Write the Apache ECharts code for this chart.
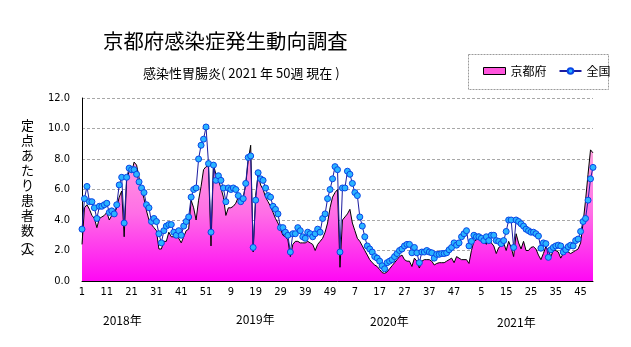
<!DOCTYPE html>
<html><head><meta charset="utf-8">
<script src="https://cdn.jsdelivr.net/npm/echarts@6/dist/echarts.min.js"></script>
<style>html,body{margin:0;padding:0;background:#fff}#c{width:631px;height:347px}</style>
</head><body><div id="c"></div>
<script>
// ---- data (weekly, per sentinel) ----
const years = [2018, 2019, 2020, 2021];
const weeksInYear = [52, 52, 53, 50];
const yearLabels = ['2018年', '2019年', '2020年', '2021年'];
const labelWeeks2018 = [1, 11, 21, 31, 41, 51];
const labelWeeks2019 = [9, 19, 29, 39, 49];
const labelWeeks2020 = [7, 17, 27, 37, 47];
const labelWeeks2021 = [5, 15, 25, 35, 45];
const yTicks = [0, 2, 4, 6, 8, 10, 12];

const kyoto2018 = [2.4,4.8,5.0,4.7,4.3,4.1,3.5,4.1,4.2,4.3,4.5,4.0,4.3,4.4,4.8,5.5,5.9,2.9,6.6,7.2,7.1,7.8,7.6,6.8,6.0,5.4,4.6,4.0,3.7,3.5,3.3,2.1,2.1,2.6,2.6,3.2,2.9,2.9,2.9,2.8,2.5,2.9,3.3,3.4,5.3,4.8,4.0,5.3,6.2,7.3,7.5,7.5];
const kyoto2019 = [2.3,7.6,7.0,6.6,6.1,5.5,4.3,4.8,4.8,4.9,5.1,5.5,5.4,5.5,6.3,7.9,8.9,1.9,5.6,7.0,6.3,6.0,5.5,5.2,4.9,4.5,4.1,3.8,3.4,3.0,2.9,2.7,1.6,2.4,2.6,2.6,2.5,2.5,2.5,2.6,2.5,2.4,2.0,2.4,2.6,2.8,3.2,3.8,4.8,5.5,5.8,6.0];
const kyoto2020 = [0.9,4.0,4.2,4.4,4.7,3.8,3.3,2.8,2.6,2.3,2.0,1.7,1.4,1.2,1.05,0.95,0.75,0.55,0.5,0.6,0.8,1.0,1.2,1.4,1.6,1.7,1.4,1.3,1.3,0.95,1.5,1.3,0.85,1.3,1.4,1.4,1.4,1.3,1.05,1.15,1.2,1.2,1.2,1.3,1.4,1.5,1.2,1.6,1.5,1.4,1.4,1.4,1.15];
const kyoto2021 = [2.0,2.6,2.7,3.1,2.8,2.6,2.4,2.9,2.5,2.3,1.8,2.2,2.3,2.5,2.0,2.6,2.2,1.6,3.1,2.5,2.1,2.6,2.0,2.0,2.2,2.25,2.1,1.7,1.4,1.8,2.25,2.0,1.6,2.0,2.0,1.9,1.5,1.8,2.0,1.9,1.8,1.9,2.0,2.1,2.5,3.8,5.3,7.0,8.6,8.4];

const national2018 = [3.4,5.4,6.2,5.2,5.2,4.8,4.1,4.9,4.9,5.0,5.1,4.5,4.6,4.4,5.0,6.3,6.8,3.8,6.8,7.4,7.3,7.3,7.0,6.5,6.1,5.8,5.0,4.8,3.9,4.1,3.9,3.1,2.5,3.3,3.6,3.7,3.7,3.2,3.0,3.3,3.0,3.6,3.9,4.2,5.5,6.0,6.1,8.0,8.9,9.3,10.1,7.7];
const national2019 = [3.2,7.6,6.6,6.9,6.6,6.1,5.2,6.1,6.0,6.1,6.0,5.6,5.2,5.4,6.4,8.1,8.2,2.2,5.3,7.1,6.7,6.6,6.1,5.6,5.5,4.9,4.7,4.4,3.5,3.5,3.2,3.0,1.9,3.1,3.1,3.5,3.3,2.9,2.8,3.2,3.1,2.9,3.1,3.4,3.2,4.1,4.4,5.4,6.0,6.7,7.5,7.3];
const national2020 = [1.9,6.1,6.1,7.2,7.0,6.4,5.8,5.6,4.2,3.6,2.9,2.3,2.1,1.9,1.6,1.5,1.3,1.0,0.8,1.2,1.3,1.4,1.6,1.8,2.0,2.1,2.3,2.4,2.4,1.85,2.2,1.85,1.2,1.9,1.9,2.0,1.9,1.85,1.5,1.75,1.75,1.8,1.8,1.85,2.05,2.2,2.5,2.35,2.5,2.9,3.1,3.3,2.3];
const national2021 = [2.6,3.0,2.9,2.9,2.8,2.65,2.9,2.65,3.0,3.0,2.65,2.6,2.45,2.65,3.25,4.0,4.0,2.2,4.0,3.9,3.75,3.6,3.4,3.3,3.2,3.2,3.1,2.95,2.15,2.5,2.45,1.55,2.05,2.2,2.3,2.35,2.3,1.9,2.05,2.25,2.35,2.3,2.65,2.75,3.25,3.9,4.1,5.3,6.7,7.45];

// ---- build ----
const kyoto = [].concat(kyoto2018, kyoto2019, kyoto2020, kyoto2021);
const national = [].concat(national2018, national2019, national2020, national2021);
const labelWeeks = [labelWeeks2018, labelWeeks2019, labelWeeks2020, labelWeeks2021];
const categories = [];
const shown = new Set();
years.forEach((y, yi) => {
  for (let w = 1; w <= weeksInYear[yi]; w++) {
    const c = y + '/' + w;
    categories.push(c);
    if (labelWeeks[yi].indexOf(w) >= 0) shown.add(c);
  }
});

const narrow = '"Liberation Sans Narrow","DejaVu Sans Condensed",Arial,sans-serif';
const jp = '"Noto Sans CJK JP","Noto Sans CJK SC",sans-serif';

const chart = echarts.init(document.getElementById('c'), null, {renderer: 'canvas'});
chart.setOption({
  animation: false,
  backgroundColor: '#fff',
  grid: {left: 82, top: 98, width: 511, height: 183, containLabel: false},
  legend: {
    left: 478, top: 60, itemWidth: 22, itemHeight: 7, itemGap: 12,
    textStyle: {fontFamily: jp, fontSize: 12, color: '#000'},
    data: [
      {name: '京都府', icon: 'rect', itemStyle: {color: '#ff55dd', borderColor: '#000', borderWidth: 1}},
      {name: '全国'}
    ]
  },
  xAxis: {
    type: 'category', data: categories, boundaryGap: false,
    axisLine: {lineStyle: {color: '#000', width: 1}},
    axisTick: {inside: true, length: 4, interval: (i) => i % 5 === 0, lineStyle: {color: '#000'}},
    axisLabel: {
      interval: (i, v) => shown.has(v),
      formatter: (v) => v.split('/')[1],
      color: '#000', fontSize: 11, fontFamily: narrow, margin: 6
    },
    splitLine: {show: false}
  },
  yAxis: {
    type: 'value', min: yTicks[0], max: yTicks[yTicks.length - 1], interval: 2,
    axisLine: {show: true, lineStyle: {color: '#000', width: 1}},
    axisTick: {show: false},
    axisLabel: {formatter: (v) => v.toFixed(1), color: '#000', fontSize: 11, fontFamily: narrow, margin: 12},
    splitLine: {lineStyle: {color: '#a8a8a8', type: [3, 2], width: 1}}
  },
  series: [
    {
      name: '京都府', type: 'line', data: kyoto, symbol: 'none', z: 2,
      lineStyle: {color: '#000', width: 1},
      itemStyle: {color: '#ff55dd'},
      areaStyle: {
        opacity: 1,
        color: new echarts.graphic.LinearGradient(0, 0, 0, 1, [
          {offset: 0, color: '#ffa6de'},
          {offset: 0.5, color: '#ff6ee6'},
          {offset: 1, color: '#ff08f4'}
        ])
      }
    },
    {
      name: '全国', type: 'line', data: national, symbol: 'circle', symbolSize: 6, z: 3,
      showSymbol: true, showAllSymbol: true,
      lineStyle: {color: '#1c1ca0', width: 1},
      itemStyle: {color: '#2ab4ff', borderColor: '#0a46e6', borderWidth: 1}
    }
  ],
  graphic: [
    {type: 'text', left: 103, top: 31, style: {text: '京都府感染症発生動向調査', font: '20.4px ' + jp, fill: '#000'}},
    {type: 'text', left: 143, top: 67, style: {text: '感染性胃腸炎( 2021 年 50週 現在 )', font: '13px ' + jp, fill: '#000'}},
    {type: 'rect', left: 466, top: 52, shape: {width: 140, height: 35}, style: {fill: 'none', stroke: '#9a9a9a', lineWidth: 1, lineDash: [2, 1]}, z: -1},
    {type: 'text', left: 21, top: 118, style: {text: '定\n点\nあ\nた\nり\n患\n者\n数', font: '13px ' + jp, lineHeight: 15, fill: '#000'}},
    {type: 'text', left: 21, top: 234, style: {text: '︵', font: '13px ' + jp, fill: '#000'}},
    {type: 'text', left: 21, top: 243, style: {text: '人', font: '13px ' + jp, fill: '#000'}},
    {type: 'text', left: 21, top: 250, style: {text: '︶', font: '13px ' + jp, fill: '#000'}},
    {type: 'text', left: 103, top: 314, style: {text: yearLabels[0], font: '12px ' + jp, fill: '#000'}},
    {type: 'text', left: 236, top: 313, style: {text: yearLabels[1], font: '12px ' + jp, fill: '#000'}},
    {type: 'text', left: 370, top: 315, style: {text: yearLabels[2], font: '12px ' + jp, fill: '#000'}},
    {type: 'text', left: 497, top: 316, style: {text: yearLabels[3], font: '12px ' + jp, fill: '#000'}}
  ]
});
</script>
</body></html>
